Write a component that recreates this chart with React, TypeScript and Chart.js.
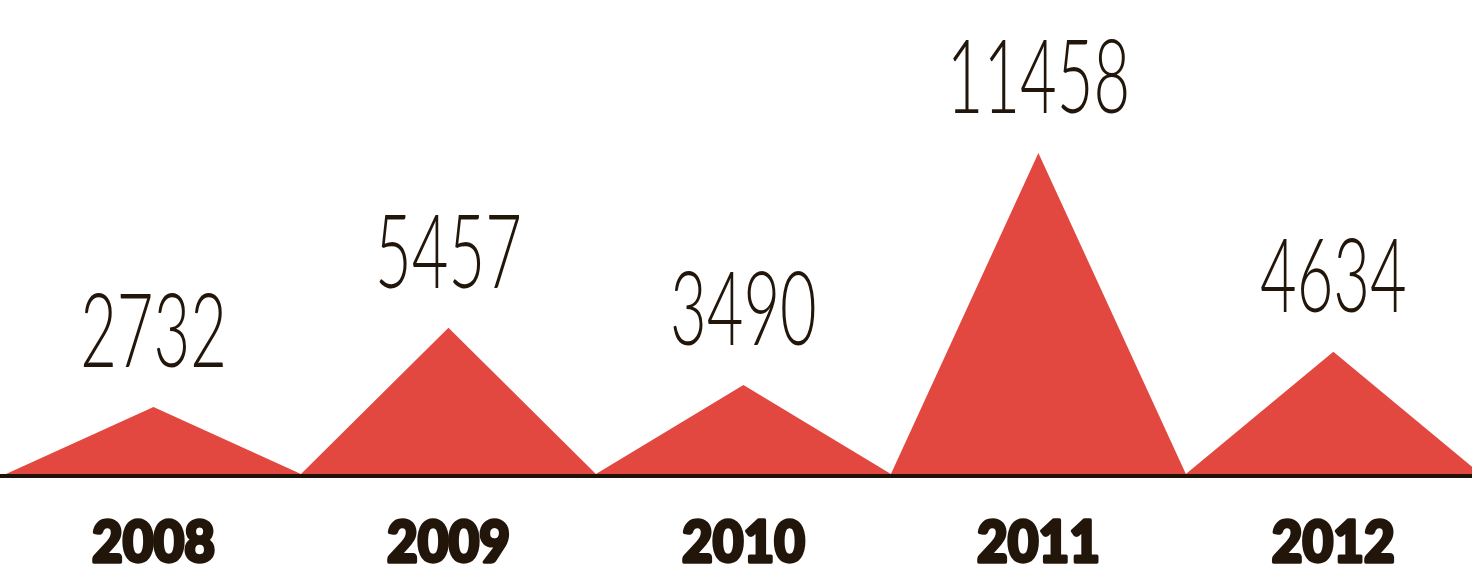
import React, { useEffect, useRef } from "react";
import { Chart, registerables } from "chart.js";
Chart.register(...registerables);

const years = ["2008", "2009", "2010", "2011", "2012"];
const counts = [2732, 5457, 3490, 11458, 4634];
const Y_MIN = 430;

export default function App() {
  const ref = useRef<HTMLCanvasElement>(null);
  useEffect(() => {
    document.body.style.margin = "0";
    const pts: { x: number; y: number }[] = [];
    years.forEach((_, i) => {
      pts.push({ x: i, y: Y_MIN });
      pts.push({ x: i + 0.5, y: counts[i] });
    });
    pts.push({ x: years.length, y: Y_MIN });

    const labelsPlugin = {
      id: "peakLabels",
      afterDraw(chart: any) {
        const { ctx, chartArea } = chart;
        const xs = chart.scales.x;
        const ys = chart.scales.y;
        ctx.save();
        ctx.fillStyle = "#1f1308";
        ctx.fillRect(0, chartArea.bottom, chart.width, 4);
        years.forEach((yr, i) => {
          const px = xs.getPixelForValue(i + 0.5);
          const py = ys.getPixelForValue(counts[i]);
          ctx.save();
          ctx.translate(px, py - 40);
          ctx.scale(0.62, 1);
          ctx.font = "300 102px Lato";
          ctx.textAlign = "center";
          ctx.textBaseline = "alphabetic";
          ctx.fillStyle = "#22160B";
          ctx.fillText(String(counts[i]), 0, 0);
          ctx.restore();

          ctx.save();
          ctx.translate(px, chartArea.bottom + 88);
          ctx.scale(0.93, 1);
          ctx.font = "900 57px Lato";
          ctx.textAlign = "center";
          ctx.textBaseline = "alphabetic";
          ctx.fillStyle = "#22160B";
          ctx.strokeStyle = "#22160B";
          ctx.lineWidth = 3.5;
          ctx.lineJoin = "round";
          ctx.strokeText(yr, 0, 0);
          ctx.fillText(yr, 0, 0);
          ctx.restore();
        });
        ctx.restore();
      },
    };

    const chart = new Chart(ref.current!, {
      type: "line",
      data: {
        datasets: [
          {
            data: pts,
            fill: "start",
            backgroundColor: "#E2483F",
            borderWidth: 0,
            pointRadius: 0,
            tension: 0,
          },
        ],
      },
      options: {
        responsive: false,
        animation: false,
        layout: { padding: { top: 153, bottom: 96, left: 6, right: 0 } },
        scales: {
          x: { type: "linear", min: 0, max: 4.97, display: false },
          y: { min: Y_MIN, max: Math.max(...counts), display: false },
        },
        plugins: { legend: { display: false }, tooltip: { enabled: false } },
      },
      plugins: [labelsPlugin],
    });
    return () => chart.destroy();
  }, []);

  return (
    <div style={{ position: "absolute", left: 0, top: 0, width: 1472, height: 570 }}>
      <canvas ref={ref} width={1472} height={570} />
    </div>
  );
}
